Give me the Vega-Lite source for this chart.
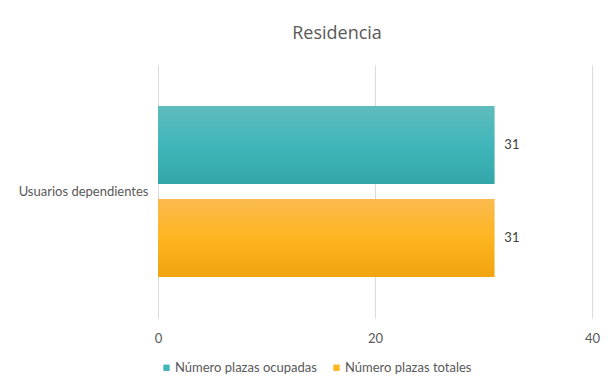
{
  "$schema": "https://vega.github.io/schema/vega-lite/v6.json",
  "width": 434,
  "height": 253,
  "autosize": {"type": "none"},
  "padding": {"left": 158, "top": 65, "right": 18, "bottom": 74},
  "background": "white",
  "title": {"text": "Residencia", "font": "Open Sans", "fontSize": 18, "fontWeight": "normal", "color": "#595959", "anchor": "middle", "dx": -38, "offset": 22},
  "data": {"values": [
    {"categoria": "Usuarios dependientes", "serie": "Número plazas ocupadas", "valor": 31},
    {"categoria": "Usuarios dependientes", "serie": "Número plazas totales", "valor": 31}
  ]},
  "encoding": {
    "y": {"field": "categoria", "type": "nominal", "title": null, "scale": {"paddingInner": 0, "paddingOuter": 0},
      "axis": {"domain": false, "ticks": false, "labelFont": "Lato", "labelFontSize": 13, "labelColor": "#595959", "labelPadding": 10}},
    "yOffset": {"field": "serie", "type": "nominal", "sort": ["Número plazas ocupadas", "Número plazas totales"], "scale": {"paddingInner": 0.16, "paddingOuter": 0.44}},
    "x": {"field": "valor", "type": "quantitative", "title": null, "scale": {"domain": [0, 40]},
      "axis": {"values": [0, 20, 40], "domain": false, "ticks": false, "labelFlush": false, "labelFont": "Lato", "labelFontSize": 13, "labelColor": "#595959", "labelPadding": 14, "gridColor": "#d9d9d9", "gridWidth": 1}}
  },
  "layer": [
    {
      "mark": {"type": "bar"},
      "encoding": {
        "color": {"field": "serie", "type": "nominal", "title": null,
          "scale": {"domain": ["Número plazas ocupadas", "Número plazas totales"], "range": ["#3fb5b8", "#fdb520"]},
          "legend": {"orient": "none", "direction": "horizontal", "legendX": 2, "legendY": 296, "symbolType": "square", "symbolSize": 40, "labelFont": "Lato", "labelFontSize": 13, "labelColor": "#595959", "columnPadding": 13, "labelOffset": 2}}
      }
    },
    {
      "transform": [{"filter": "datum.serie === 'Número plazas ocupadas'"}],
      "mark": {"type": "bar", "fill": {"gradient": "linear", "x1": 0, "y1": 0, "x2": 0, "y2": 1, "stops": [{"offset": 0, "color": "#5fbcbc"}, {"offset": 0.5, "color": "#40b6ba"}, {"offset": 1, "color": "#33a6a8"}]}}
    },
    {
      "transform": [{"filter": "datum.serie === 'Número plazas totales'"}],
      "mark": {"type": "bar", "fill": {"gradient": "linear", "x1": 0, "y1": 0, "x2": 0, "y2": 1, "stops": [{"offset": 0, "color": "#fbba4e"}, {"offset": 0.5, "color": "#fdb520"}, {"offset": 1, "color": "#f1a40f"}]}}
    },
    {
      "mark": {"type": "text", "align": "left", "dx": 10, "font": "Lato", "fontSize": 13, "color": "#404040"},
      "encoding": {"text": {"field": "valor", "type": "quantitative"}}
    }
  ],
  "config": {"view": {"stroke": null}}
}
